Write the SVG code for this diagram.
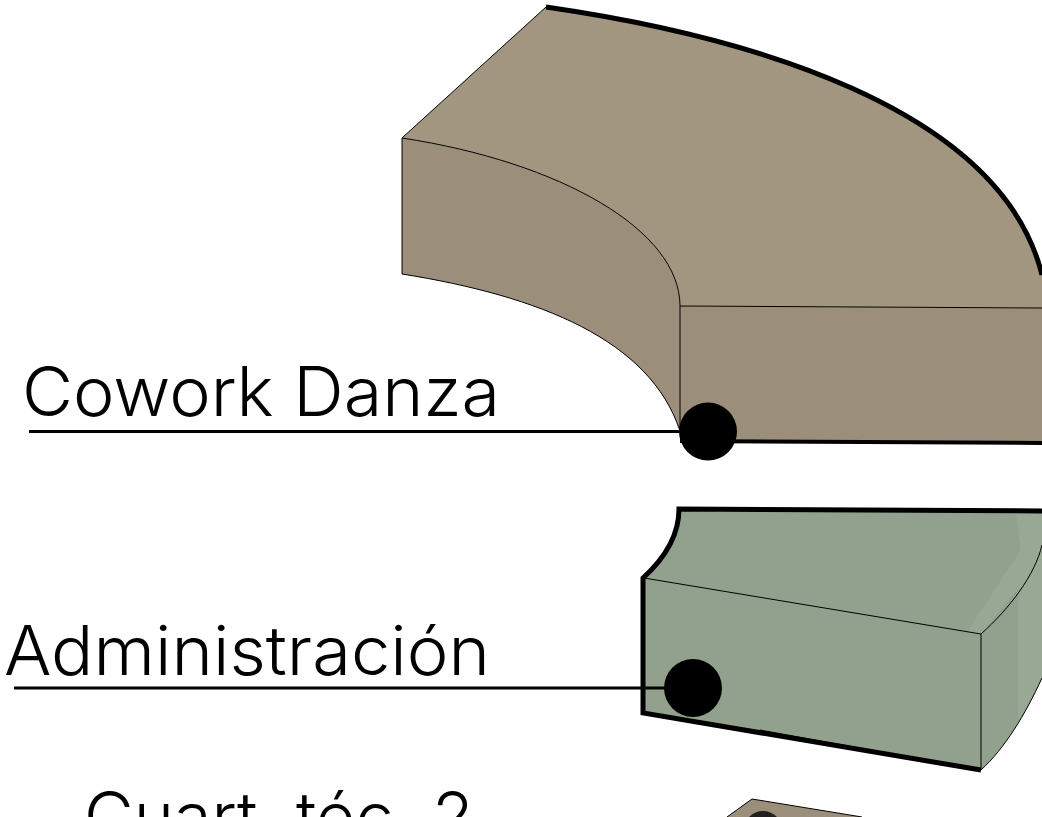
<svg xmlns="http://www.w3.org/2000/svg" width="1042" height="817" viewBox="0 0 1042 817">
<style>
.t{font-family:"Inter","Liberation Sans",sans-serif;font-weight:300;font-size:68px;fill:#000}
.e{fill:none;stroke:#000;stroke-width:1}
.lead{stroke:#000;stroke-width:3;fill:none}
</style>
<rect width="1042" height="817" fill="#fff"/>
<g id="cowork">
<path d="M546 7C740 35 1000 105 1042 275V308L680 306C680 230 560 162 402 138Z" fill="#a29681"/>
<path d="M402 138C560 162 680 230 680 306V431C650 340 540 296 402 274Z" fill="#9b8f7b"/>
<path d="M680 306L1042 308V443L680 441Z" fill="#9b8f7b"/>
<path d="M546 7L402 138V274C540 296 650 340 680 431" class="e"/>
<path d="M402 138C560 162 680 230 680 306V431M680 306L1042 308" class="e"/>
<path d="M546 7C740 35 1000 105 1042 275" fill="none" stroke="#000" stroke-width="5"/>
<path d="M680 441L1042 443" fill="none" stroke="#000" stroke-width="4"/>
</g>
<g id="admin">
<path d="M679 509L1042 511V678C1025 715 1005 748 981 770L643 713V578C665 558 679 535 679 509Z" fill="#91a18d"/>
<path d="M1016 512L1042 511V678C1033 695 1027 708 1018 720V600L1021 550Z" fill="#98a894"/>
<path d="M1021 550L967 632L981 634L1042 560V515L1016 512Z" fill="#98a894"/>
<path d="M644 578L981 634V770M981 634C1010 608 1035 575 1042 545M981 770C1005 748 1025 715 1042 678" class="e"/>
<path d="M1042 511L679 509C679 535 665 558 643 578V713L981 770" fill="none" stroke="#000" stroke-width="5" stroke-linejoin="miter"/>
<path d="M760 730L981 770" class="e"/>
</g>
<g id="cuart">
<path d="M752 799L862 817H727Z" fill="#9b8f7b"/>
<path d="M752 799L862 817M752 799L727 817" class="e"/>
<circle cx="763" cy="830" r="19" fill="#231f20"/>
</g>
<g id="connectors">
<path d="M29 431.500H708" class="lead"/>
<path d="M14 688H693" class="lead"/>
<circle cx="708" cy="431.500" r="29" fill="#000"/>
<circle cx="693" cy="688" r="29" fill="#000"/>
</g>
<g id="labels">
<text class="t" x="22" y="416" textLength="478" lengthAdjust="spacingAndGlyphs">Cowork Danza</text>
<text class="t" x="4" y="675" textLength="486" lengthAdjust="spacingAndGlyphs">Administración</text>
<text class="t" x="84" y="841" textLength="390" lengthAdjust="spacingAndGlyphs">Cuart. téc. 2</text>
</g>
</svg>
